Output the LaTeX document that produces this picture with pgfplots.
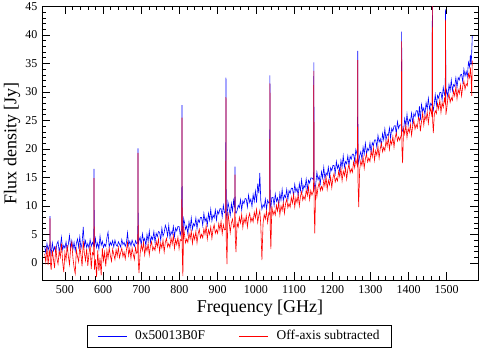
\documentclass[border=0pt]{standalone}
\usepackage{pgfplots}
\pgfplotsset{compat=1.18}
\usepackage{pgfplotstable}
\usepackage{fontspec}
\setmainfont{Liberation Serif}
\pgfplotstableread{
f b r
447 2.9 1.6
450 1.8 0.1
453 3.4 2.7
456 2.2 -0.4
458.5 3.0 1.9
460.4 3.1 1.2
461.0 8.2 7.8
461.6 2.6 0.3
464 1.6 -1.2
467 3.5 2.2
470 2.1 0.6
473 2.8 -0.9
476 1.9 2.9
479 3.3 0.8
482 3.8 -0.2
485 2.0 2.1
488 2.9 1.0
491 4.5 3.4
494 2.3 0.2
497 3.1 -1.6
500 2.6 1.8
503 3.7 0.5
506 2.2 3.1
509 3.3 1.2
512 4.8 -0.3
515 2.6 2.6
518 3.9 3.6
521 2.4 0.9
524 3.6 -0.8
527 2.1 -1.9
530 3.4 2.3
533 4.2 1.1
536 2.8 0.2
539 4.6 2.9
542 2.5 1.4
545 3.5 -0.6
548 6.3 3.8
551 3.0 1.7
554 3.9 0.4
557 2.7 2.5
560 3.4 -0.5
563 2.6 1.6
566 4.1 3.0
569 2.9 -1.1
572 3.6 1.8
575.5 3.0 1.4
576.3 16.5 14.9
577.1 2.8 -1.2
580 4.3 0.6
583 2.7 -2.5
586 3.5 2.2
589 2.4 -1.4
592 4.7 0.9
595 3.1 -2.2
598 3.8 2.6
601 2.7 0.4
604 3.3 1.9
607 2.9 -0.6
610 4.4 2.2
613 5.4 0.8
616 2.8 2.6
619 3.6 1.3
622 3.1 0.3
625 3.9 2.4
628 2.8 1.5
631 4.0 0.6
634 3.2 2.3
637 2.9 1.2
640 3.7 2.7
643 3.3 0.9
646 2.8 1.8
649 4.1 2.6
652 3.2 1.1
655 3.6 1.9
658 2.9 0.7
661 3.5 2.2
664 5.3 3.6
667 3.1 1.3
670 3.8 2.5
673 3.0 0.8
676 4.0 2.6
679 3.3 1.5
682 2.9 0.6
685 3.9 2.7
688 3.4 1.7
690.8 3.6 2.0
691.5 20.1 19.3
692.2 3.2 0.4
694 3.9 -1.8
697 4.5 1.6
700 3.1 3.2
703 5.1 2.2
706 3.8 3.6
709 4.3 1.4
712 3.0 2.9
715 5.0 2.1
718 3.8 3.4
721 5.6 1.4
724 3.6 3.0
727 4.6 3.7
730 4.1 2.2
733 5.5 2.8
736 3.6 2.2
739 5.2 3.8
742 4.6 2.8
745 5.5 4.2
748 5.4 2.0
751 4.0 3.5
754 6.1 2.6
757 4.7 4.0
760 5.3 1.9
763 6.6 3.6
766 6.0 4.3
769 4.7 2.8
772 6.6 3.4
775 4.5 2.7
778 5.5 4.4
781 5.0 3.3
784 6.4 4.8
787 4.6 2.5
790 6.1 4.1
793 5.6 3.2
796 6.4 4.5
799 6.4 2.5
802 4.9 4.1
805.9 6.0 3.9
806.7 27.7 25.5
807.5 5.6 1.0
809 4.9 -2.3
811 7.8 6.4
813 7.2 5.1
816 5.9 3.5
819 6.5 4.2
822 5.1 3.6
825 7.2 5.2
828 6.0 4.2
831 7.9 5.6
834 5.9 3.4
837 6.9 5.0
840 6.5 4.1
843 7.9 5.5
846 6.0 3.5
849 7.6 5.1
852 7.1 5.9
855 8.0 4.4
858 8.0 5.0
861 6.6 4.4
864 8.7 6.0
867 7.3 5.0
870 7.9 6.5
873 6.6 4.2
876 8.7 5.8
879 7.5 5.0
882 9.4 6.3
885 7.4 4.3
888 8.4 5.9
891 7.9 6.7
894 9.3 5.2
897 7.5 5.8
900 9.1 5.2
903 8.6 6.9
906 9.5 5.8
909 9.5 7.3
912 8.1 5.1
915 10.1 6.7
918 8.8 5.8
921.0 9.0 5.9
921.8 32.5 29.1
922.6 8.8 4.0
924.5 7.6 -0.2
927 10.7 8.9
930 9.6 7.3
933 8.3 5.3
936 10.4 7.0
939 9.1 7.7
942 11.0 6.2
944.8 9.6 6.6
945.5 16.9 15.5
946.3 9.0 4.4
948 8.7 1.9
951 9.2 7.0
954 10.1 6.3
957 9.7 8.0
960 11.1 7.0
963 9.3 8.5
966 10.9 6.2
969 10.4 7.8
972 11.3 7.0
975 11.2 8.3
978 9.8 6.3
981 11.9 8.0
984 10.6 8.7
987 11.2 7.2
990 9.9 7.9
993 12.0 7.2
996 10.8 8.9
999 12.6 7.9
1002 10.6 9.4
1005 13.9 7.1
1008 12.2 8.4
1010.5 15.8 9.2
1013 11.0 6.7
1016 9.4 0.5
1019 10.2 6.9
1022 9.8 8.5
1025 11.2 7.7
1028 9.4 9.1
1031 11.0 7.1
1034 10.5 8.8
1036.2 10.6 8.5
1037.0 32.9 31.5
1037.8 10.2 6.0
1039.5 9.6 2.4
1042 11.5 10.0
1045 11.5 8.4
1048 10.1 9.1
1051 12.1 8.4
1054 10.8 10.1
1057 11.4 9.1
1060 10.1 10.6
1063 12.2 8.4
1066 11.0 10.0
1069 12.9 9.2
1072 10.9 10.6
1075 11.9 8.7
1078 11.5 10.4
1081 12.9 11.2
1084 11.1 9.7
1087 12.7 10.4
1090 12.2 9.8
1093 13.1 11.5
1096 13.1 10.5
1099 11.7 12.0
1102 13.8 9.8
1105 12.5 11.4
1108 13.1 10.6
1111 11.8 12.0
1114 13.9 10.0
1117 12.7 11.7
1120 14.6 12.5
1123 12.6 11.0
1126 13.6 11.7
1129 13.2 11.1
1132 14.7 12.8
1135 12.9 11.8
1138 14.5 13.3
1141 14.0 11.1
1144 14.9 12.7
1147 14.9 11.9
1151.2 14.6 12.7
1152.0 35.2 33.7
1152.8 14.2 9.6
1154.5 13.0 5.2
1157 13.8 13.6
1160 15.9 11.6
1163 14.6 13.3
1166 15.2 14.1
1169 13.9 12.7
1172 16.0 13.4
1175 14.9 12.8
1178 16.8 14.5
1181 14.8 13.5
1184 15.8 15.1
1187 15.4 12.9
1190 16.8 14.5
1193 15.0 13.7
1196 16.7 15.1
1199 16.2 13.2
1202 17.1 14.9
1205 17.1 15.7
1208 15.7 14.2
1211 17.8 14.9
1214 16.6 14.4
1217 17.2 16.1
1220 15.9 15.1
1223 18.0 16.6
1226 16.8 14.4
1229 18.8 16.1
1232 16.8 15.3
1235 17.8 16.7
1238 17.4 14.7
1241 18.8 16.4
1244 17.1 17.3
1247 18.7 15.8
1250 18.2 16.5
1253 19.1 15.9
1256 19.1 17.7
1259 17.8 16.7
1262 19.9 18.2
1266.2 18.8 17.0
1267.0 37.2 35.6
1267.8 18.3 14.0
1269.5 17.5 9.8
1272 18.8 16.3
1275 19.5 17.9
1278 18.2 17.1
1281 20.3 18.6
1284 19.1 16.6
1287 21.0 18.3
1290 19.1 19.1
1293 20.1 17.7
1296 19.7 18.4
1299 21.1 17.8
1302 19.4 19.6
1305 21.1 18.6
1308 20.6 20.2
1311 21.6 18.0
1314 21.6 19.7
1317 20.3 18.9
1320 22.4 20.4
1323 21.2 18.4
1326 21.8 20.1
1329 20.6 21.0
1332 22.7 19.5
1335 21.6 20.3
1338 23.5 19.7
1341 21.6 21.4
1344 22.6 20.5
1347 22.3 22.0
1350 23.7 19.9
1353 21.9 21.5
1356 23.6 20.8
1359 23.1 22.2
1362 24.0 20.3
1365 24.1 22.0
1368 22.7 22.8
1371 24.8 21.4
1374 23.6 22.1
1377 24.2 21.5
1381.2 24.2 22.5
1382.0 40.6 38.9
1382.8 23.8 20.0
1384.5 23.1 17.5
1387 23.2 23.6
1390 25.3 22.6
1393 24.1 24.2
1396 26.1 22.0
1399 24.1 23.6
1402 25.2 22.9
1405 24.8 24.3
1408 26.3 22.4
1411 24.5 24.1
1414 26.2 25.0
1417 25.7 23.5
1420 26.7 24.3
1423 26.7 23.7
1426 25.4 25.5
1428.5 27.5 25.3
1431 25.0 23.1
1434 27.8 24.8
1437 26.6 26.3
1440 27.2 24.2
1443 26.0 25.8
1446 28.1 25.1
1449 27.0 26.5
1452 28.9 24.5
1455 27.0 26.3
1458 28.0 27.1
1461.7 27.6 25.6
1462.5 48.0 46.0
1463.3 27.4 24.8
1465 26.8 22.8
1467.5 28.0 26.0
1470 29.5 26.7
1473 27.7 26.2
1476 29.4 28.0
1479 28.9 27.0
1482 29.9 28.6
1485 29.9 26.4
1488 28.6 28.1
1491 30.8 27.3
1494 29.5 28.8
1496.2 30.0 28.1
1497.0 44.5 42.7
1497.8 29.6 26.0
1500 30.3 27.0
1503 29.1 28.8
1506 31.3 29.6
1509 30.2 28.2
1512 32.1 29.0
1515 30.2 28.5
1518 31.3 30.2
1521 31.0 29.3
1524 32.5 30.9
1527 30.8 28.8
1530 32.5 30.4
1533 32.1 29.7
1536 33.0 31.2
1539 33.1 29.3
1542 31.8 31.0
1545 34.0 31.9
1548 32.8 30.5
1551 33.6 31.4
1554 32.7 31.1
1557 35.2 33.2
1560 34.4 32.5
1562 36.5 34.3
1564 34.7 32.3
1565.5 36.9 29.3
1567 39.8 35.5
}\spec
\begin{document}
\begin{tikzpicture}
\useasboundingbox (0pt,0pt) rectangle (479pt,355pt);
\begin{axis}[
  at={(42pt,75pt)}, anchor=south west,
  scale only axis, width=436pt, height=273.5pt,
  xmin=440, xmax=1582, ymin=-3, ymax=45,
  xtick={500,600,...,1500}, ytick={0,5,...,45},
  minor tick num=4,
  tick align=inside,
  major tick length=8pt, minor tick length=4pt,
  every tick/.style={black, line width=0.6pt},
  axis line style={line width=0.8pt},
  tick label style={font=\fontsize{12}{12}\selectfont},
  /pgf/number format/assume math mode=true,
  /pgf/number format/1000 sep={},
  xticklabel style={yshift=-2pt},
  yticklabel style={xshift=-1pt},
  xlabel={Frequency [GHz]}, ylabel={Flux density [Jy]},
  every axis x label/.style={at={(axis description cs:0.5,-0.118)}, anchor=base, font=\fontsize{18}{18}\selectfont},
  every axis y label/.style={at={(axis description cs:-0.0585,0.5)}, anchor=base, rotate=90, font=\fontsize{18}{18}\selectfont},
  legend columns=2,
  legend style={at={(axis description cs:0.453,-0.2048)}, anchor=center, font=\fontsize{13.4}{13.4}\selectfont, draw=black, line width=0.8pt, inner xsep=10pt, inner ysep=3.5pt,
    /tikz/every even column/.append style={column sep=32pt},
    /tikz/every odd column/.append style={column sep=6pt}},
  legend image code/.code={\draw[#1] (0pt,0pt) -- (29pt,0pt);},
]
\addplot[blue, line width=0.6pt] table[x=f,y=b]{\spec};
\addplot[red, line width=0.6pt] table[x=f,y=r]{\spec};
\legend{0x50013B0F, Off-axis subtracted}
\end{axis}
\end{tikzpicture}
\end{document}
